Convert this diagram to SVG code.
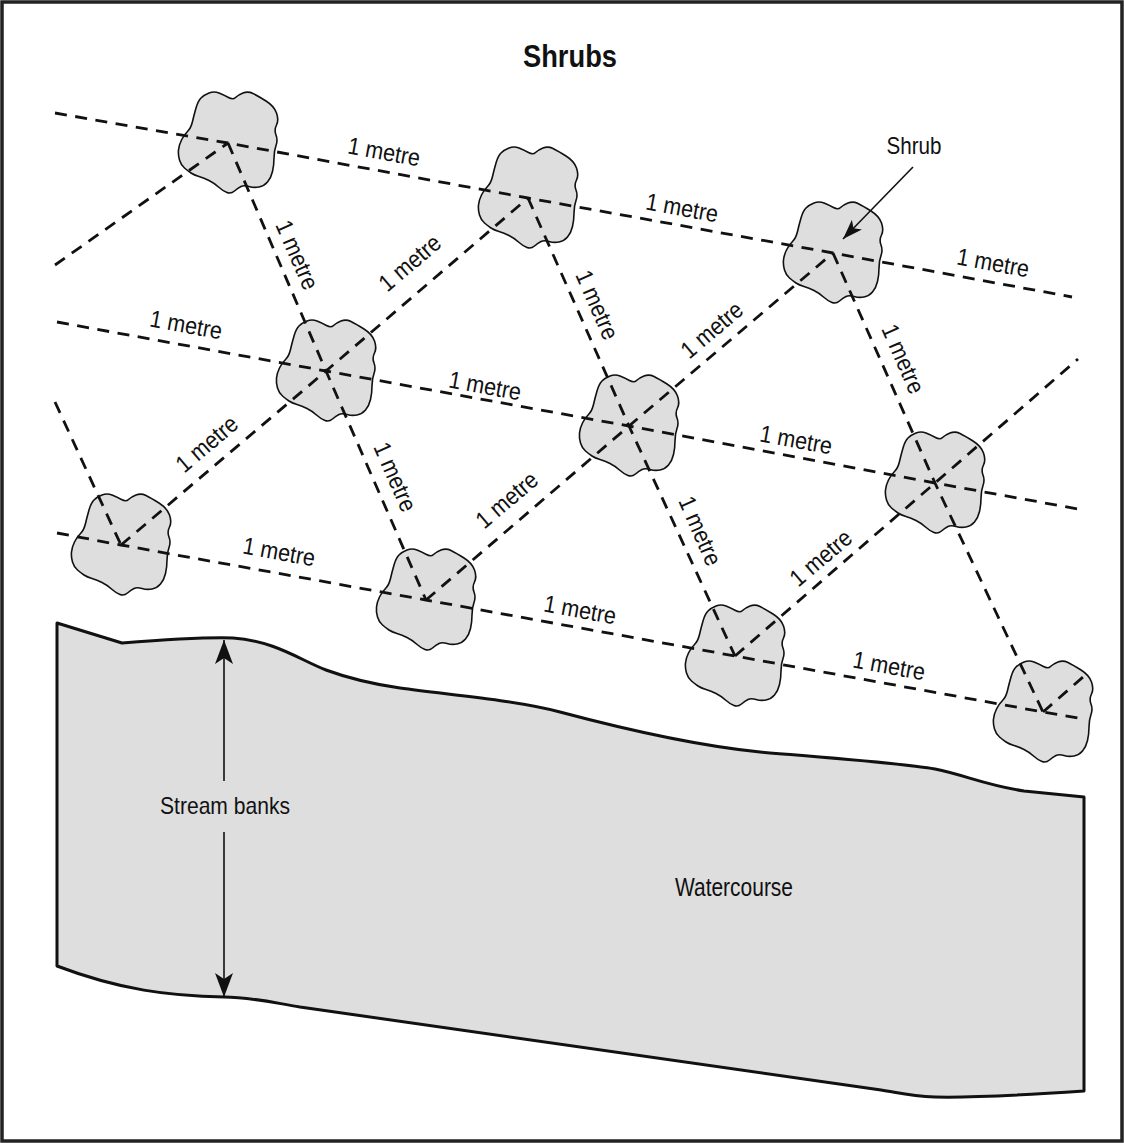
<svg xmlns="http://www.w3.org/2000/svg" xmlns:xlink="http://www.w3.org/1999/xlink" width="1124" height="1143" viewBox="0 0 1124 1143">
<style>
.frame{fill:#fff;stroke:#222;stroke-width:3.5}
.water{fill:#dedede;stroke:#111;stroke-width:3;stroke-linejoin:round}
.blob{fill:#dedede;stroke:#111;stroke-width:1.6}
.dash{fill:none;stroke:#111;stroke-width:2.8;stroke-dasharray:12 8.5}
.lbl{font-family:"Liberation Sans",Arial,sans-serif;font-size:24px;fill:#111;text-anchor:middle}
.txt{font-family:"Liberation Sans",Arial,sans-serif;fill:#111;text-anchor:middle}
.title{font-family:"Liberation Sans",Arial,sans-serif;font-weight:bold;font-size:31px;fill:#111;text-anchor:middle}
.thin{fill:none;stroke:#111;stroke-width:1.6}
</style>
<defs>
<path id="blob" class="blob" d="M-27,-45 Q-24,-48 -19,-50 Q-14,-52 -9,-50 Q-4,-48 0.5,-45.5 Q5,-43 7.5,-45.5 Q10,-48 15,-50 Q20,-52 25,-49.5 Q30,-47 38,-42 Q46,-37 48.5,-30 Q51,-23 48.5,-18 Q46,-13 48,-8 Q50,-3 48,2.5 Q46,8 46,15 Q46,22 44.5,28.5 Q43,35 39.5,39 Q36,43 31,44 Q26,45 21,43.5 Q16,42 13,43.5 Q10,45 6.5,48 Q3,51 -1,49.5 Q-5,48 -9.5,44 Q-14,40 -19,37.5 Q-24,35 -29,33.5 Q-34,32 -37,30 Q-40,28 -43.5,25 Q-47,22 -48.5,17 Q-50,12 -49.5,7 Q-49,2 -46.5,-3 Q-44,-8 -40.5,-11.5 Q-37,-15 -35.5,-21.5 Q-34,-28 -32,-35 Q-30,-42 -27,-45 Z"/>
<marker id="arrBig" viewBox="0 0 24 18" refX="24" refY="9" markerWidth="24" markerHeight="18" markerUnits="userSpaceOnUse" orient="auto">
<path d="M0,0 L24,9 L0,18 L6,9 Z" fill="#111"/>
</marker>
<marker id="arrSmall" viewBox="0 0 20 14" refX="20" refY="7" markerWidth="20" markerHeight="14" markerUnits="userSpaceOnUse" orient="auto">
<path d="M0,0 L20,7 L0,14 L5,7 Z" fill="#111"/>
</marker>
</defs>
<rect class="frame" x="2" y="2" width="1120" height="1139"/>
<text class="title" x="570" y="67" textLength="94" lengthAdjust="spacingAndGlyphs">Shrubs</text>

<g id="watercourse">
<path class="water" d="M57,623 L122,643 C160,640 200,637 233,638 C275,641 300,660 326,670 C345,677 365,683 400,688 C450,695 515,700 560,712 C620,728 690,745 760,752 C830,758 900,763 935,769 C965,775 985,785 1024,791 L1084,797 L1084,1091 C1040,1094 980,1098 935,1097 C910,1096 900,1093 881,1090 L300,1007 C270,1002 250,997 224,997 C170,996 120,990 57,966 Z"/>
<text class="txt" x="734" y="896" font-size="25" textLength="118" lengthAdjust="spacingAndGlyphs">Watercourse</text>
</g>

<g id="shrubs">
<g id="shrub-a1" transform="translate(228,143)"><use xlink:href="#blob"/></g>
<g id="shrub-a2" transform="translate(528,198)"><use xlink:href="#blob"/></g>
<g id="shrub-a3" transform="translate(833,253)"><use xlink:href="#blob"/></g>
<g id="shrub-b1" transform="translate(326,371)"><use xlink:href="#blob"/></g>
<g id="shrub-b2" transform="translate(629,426)"><use xlink:href="#blob"/></g>
<g id="shrub-b3" transform="translate(935,483)"><use xlink:href="#blob"/></g>
<g id="shrub-c1" transform="translate(121,545)"><use xlink:href="#blob"/></g>
<g id="shrub-c2" transform="translate(426,600)"><use xlink:href="#blob"/></g>
<g id="shrub-c3" transform="translate(735,656)"><use xlink:href="#blob"/></g>
<g id="shrub-c4" transform="translate(1043,712)"><use xlink:href="#blob"/></g>
</g>

<g id="connectors">
<path class="dash" d="M55,113 L228,143 L528,198 L833,253 L1072,297"/>
<path class="dash" d="M57,322 L326,371 L629,426 L935,483 L1078,509"/>
<path class="dash" d="M57,533 L121,545 L426,600 L735,656 L1043,712 L1078,718"/>
<path class="dash" d="M55,402 L121,545"/>
<path class="dash" d="M228,143 L326,371 L426,600"/>
<path class="dash" d="M528,198 L629,426 L735,656"/>
<path class="dash" d="M833,253 L935,483 L1043,712"/>
<path class="dash" d="M55,265 L228,143"/>
<path class="dash" d="M121,545 L326,371 L528,198"/>
<path class="dash" d="M426,600 L629,426 L833,253"/>
<path class="dash" d="M735,656 L935,483 L1078,359"/>
<path class="dash" d="M1043,712 L1083,677"/>
<line class="thin" x1="913" y1="167" x2="843" y2="239" marker-end="url(#arrSmall)"/>
<line class="thin" x1="224" y1="781" x2="224" y2="640" marker-end="url(#arrBig)"/>
<line class="thin" x1="224" y1="832" x2="224" y2="997" marker-end="url(#arrBig)"/>
</g>

<g id="labels">
<text class="txt" x="914" y="154" font-size="24" textLength="55" lengthAdjust="spacingAndGlyphs">Shrub</text>
<text class="txt" x="225" y="814" font-size="24" textLength="130" lengthAdjust="spacingAndGlyphs">Stream banks</text>

<g transform="translate(384,152) rotate(10.3)"><text class="lbl" x="0" y="8" textLength="73" lengthAdjust="spacingAndGlyphs">1 metre</text></g>
<g transform="translate(682,208) rotate(10.3)"><text class="lbl" x="0" y="8" textLength="73" lengthAdjust="spacingAndGlyphs">1 metre</text></g>
<g transform="translate(993,263) rotate(10.3)"><text class="lbl" x="0" y="8" textLength="73" lengthAdjust="spacingAndGlyphs">1 metre</text></g>
<g transform="translate(186,325) rotate(10.3)"><text class="lbl" x="0" y="8" textLength="73" lengthAdjust="spacingAndGlyphs">1 metre</text></g>
<g transform="translate(485,386) rotate(10.3)"><text class="lbl" x="0" y="8" textLength="73" lengthAdjust="spacingAndGlyphs">1 metre</text></g>
<g transform="translate(796,440) rotate(10.3)"><text class="lbl" x="0" y="8" textLength="73" lengthAdjust="spacingAndGlyphs">1 metre</text></g>
<g transform="translate(279,552) rotate(10.3)"><text class="lbl" x="0" y="8" textLength="73" lengthAdjust="spacingAndGlyphs">1 metre</text></g>
<g transform="translate(580,610) rotate(10.3)"><text class="lbl" x="0" y="8" textLength="73" lengthAdjust="spacingAndGlyphs">1 metre</text></g>
<g transform="translate(889,666) rotate(10.3)"><text class="lbl" x="0" y="8" textLength="73" lengthAdjust="spacingAndGlyphs">1 metre</text></g>

<g transform="translate(410,263) rotate(-40.3)"><text class="lbl" x="0" y="8" textLength="73" lengthAdjust="spacingAndGlyphs">1 metre</text></g>
<g transform="translate(712,330) rotate(-40.3)"><text class="lbl" x="0" y="8" textLength="73" lengthAdjust="spacingAndGlyphs">1 metre</text></g>
<g transform="translate(207,444) rotate(-40.3)"><text class="lbl" x="0" y="8" textLength="73" lengthAdjust="spacingAndGlyphs">1 metre</text></g>
<g transform="translate(507,500) rotate(-40.3)"><text class="lbl" x="0" y="8" textLength="73" lengthAdjust="spacingAndGlyphs">1 metre</text></g>
<g transform="translate(821,558) rotate(-40.3)"><text class="lbl" x="0" y="8" textLength="73" lengthAdjust="spacingAndGlyphs">1 metre</text></g>

<g transform="translate(297,255) rotate(66.3)"><text class="lbl" x="0" y="8" textLength="73" lengthAdjust="spacingAndGlyphs">1 metre</text></g>
<g transform="translate(597,305) rotate(66.3)"><text class="lbl" x="0" y="8" textLength="73" lengthAdjust="spacingAndGlyphs">1 metre</text></g>
<g transform="translate(903,359) rotate(66.3)"><text class="lbl" x="0" y="8" textLength="73" lengthAdjust="spacingAndGlyphs">1 metre</text></g>
<g transform="translate(395,477) rotate(66.3)"><text class="lbl" x="0" y="8" textLength="73" lengthAdjust="spacingAndGlyphs">1 metre</text></g>
<g transform="translate(700,531) rotate(66.3)"><text class="lbl" x="0" y="8" textLength="73" lengthAdjust="spacingAndGlyphs">1 metre</text></g>
</g>
</svg>
